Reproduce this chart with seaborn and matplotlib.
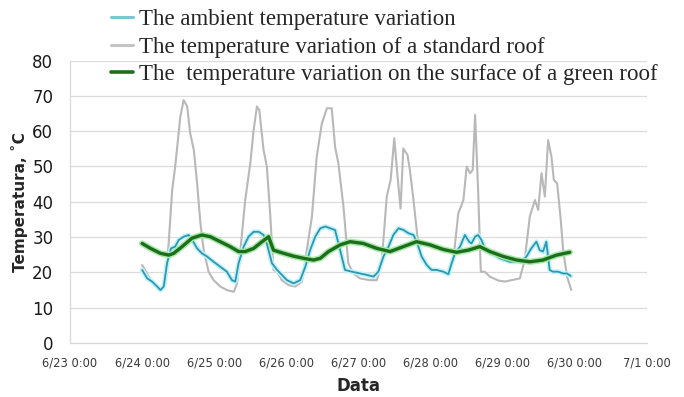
import pandas as pd
import seaborn as sns
import matplotlib.pyplot as plt
import matplotlib.dates as mdates
import matplotlib.patheffects as pe
from matplotlib.lines import Line2D
from matplotlib.ticker import FuncFormatter

# hours since 6/24 0:00 and temperatures
ambient_h = [0, 1.7, 3.3, 5, 6.1, 7.2, 8.3, 9.6, 11, 12.2, 13.8, 15.5, 17, 18.3, 19.9, 21.6, 23.8, 26, 28.2, 29.9,
             31, 32.1, 33.8, 35.4, 37.1, 38.8, 40.4, 41.5, 43.2, 44.9, 46.5, 48.2, 50.4, 52.6, 54.3, 55.9, 57.6,
             59.3, 61, 62.6, 64.2, 65.9, 67.5, 69.8, 72.5, 74.7, 77, 78.6, 80.3, 82, 83.6, 85.3, 87, 88.6, 90.3,
             91.6, 93, 94.7, 96.3, 98, 100.2, 101.9, 103, 104.1, 105.8, 107.4, 108.8, 109.6, 110.8, 111.8, 112.9,
             114, 115.7, 117.4, 119, 120.7, 122.4, 124, 126.2, 127.9, 129.5, 131.2, 132.3, 133.4, 134.5, 135.6,
             136.7, 138.4, 140.1, 141.4, 142.6]
ambient_t = [20.7, 18.3, 17.4, 16, 15, 16, 22.6, 26.8, 27.3, 29.2, 30.1, 30.6, 28.7, 26.8, 25.4, 24.5, 23, 21.6,
             20.2, 17.8, 17.4, 22.6, 27.3, 30.1, 31.5, 31.5, 30.6, 28.2, 22.6, 20.7, 19.3, 17.8, 16.9, 17.8, 21.6,
             26.3, 30.1, 32.5, 33, 32.5, 32, 26.3, 20.7, 20.2, 19.7, 19.3, 18.8, 20.2, 24.5, 27.3, 30.6, 32.5, 32,
             31.1, 30.6, 28.2, 24.5, 22.1, 20.7, 20.7, 20.2, 19.5, 22.6, 25.4, 27.3, 30.6, 28.7, 28.2, 30.1, 30.6,
             29.2, 26.8, 25.4, 24.9, 24, 23.5, 23, 23, 23, 24.5, 26.8, 28.7, 26.3, 25.9, 28.7, 20.7, 20.2, 20.2,
             19.7, 19.7, 19]

standard_h = [0, 2.2, 5, 6.6, 7.8, 8.9, 10, 11, 12.7, 13.8, 15, 16, 17.2, 18.3, 19.4, 20.5, 22.1, 23.8, 26, 28.2,
              30.5, 31.6, 32.7, 34.3, 36, 37.1, 38.2, 39, 40.4, 41.5, 42.6, 43.7, 44.9, 46.5, 48.7, 51, 53.2, 54.8,
              56.5, 58.1, 59.8, 61.5, 63.1, 64.2, 65.3, 67, 68.6, 70.3, 72.5, 75.8, 78.1, 79.7, 81.4, 82.7, 83.9,
              85, 86, 86.9, 88.3, 89.1, 90.3, 91.6, 93, 94.7, 96.3, 99.1, 101.9, 103.8, 105.2, 106.9, 108, 109.1,
              110, 110.8, 111.8, 112.7, 114, 115.7, 118.5, 120.7, 122.9, 125.7, 127.3, 129, 130.7, 131.8, 132.9,
              134, 135.1, 136.2, 137, 138.1, 139.2, 140.1, 141.4, 142.8]
standard_t = [22.1, 18.8, 16, 15, 16.9, 29.2, 43.3, 50, 64, 68.8, 67, 59.4, 54.7, 45.2, 33.9, 26.3, 20.2, 17.8, 16,
              15, 14.5, 16.9, 26.3, 40.5, 50.9, 60.3, 67, 66, 54.7, 50, 36.7, 20.7, 20.2, 17.8, 16.4, 16, 17.4,
              26.3, 35.8, 52.8, 62.2, 66.5, 66.5, 55.6, 50.9, 38.6, 22.6, 19.7, 18.3, 17.8, 17.8, 22.6, 41.5, 46.2,
              58, 47.1, 38.1, 55.1, 53.3, 49, 40.5, 30.1, 24.5, 22.1, 20.7, 20.2, 19.7, 25.4, 36.7, 40.5, 50, 48.1,
              49, 64.6, 43.3, 20.2, 20.2, 18.8, 17.7, 17.4, 17.8, 18.3, 23.5, 35.8, 40.5, 37.7, 48.1, 41.5, 57.5,
              52.8, 46.2, 45.2, 35.8, 26.3, 18.8, 15]

green_h = [0, 2.8, 6.1, 8.9, 10.5, 13.3, 16.6, 19.9, 22.7, 26, 29.3, 32.1, 34.3, 37.1, 39.9, 42.1, 43.7, 47.1,
           50.4, 53.7, 57, 59.3, 62, 65.9, 69.2, 73.6, 78.1, 82.5, 86.9, 91.3, 95.8, 100.2, 104.6, 108.5, 112.4,
           115.7, 120.2, 124.6, 129, 133.4, 137.9, 142.3]
green_t = [28.2, 26.8, 25.4, 24.9, 25.4, 27.3, 29.7, 30.6, 30.1, 28.7, 27.3, 25.9, 25.9, 26.8, 28.7, 30.1, 26.3,
           25.4, 24.6, 24, 23.5, 24, 25.9, 27.8, 28.7, 28.2, 26.8, 25.9, 27.3, 28.7, 27.8, 26.5, 25.7, 26.3, 27.3,
           25.9, 24.5, 23.5, 23, 23.5, 24.9, 25.7]

labels = ['The ambient temperature variation',
          'The temperature variation of a standard roof',
          'The  temperature variation on the surface of a green roof']

start = pd.Timestamp('2013-06-24 00:00')


def frame(hours, temps):
    return pd.DataFrame({'time': start + pd.to_timedelta(hours, unit='h'), 'temp': temps})


df_amb = frame(ambient_h, ambient_t)
df_std = frame(standard_h, standard_t)
df_grn = frame(green_h, green_t)

sns.set_style('white')
plt.rcParams['font.family'] = ['DejaVu Sans']

fig = plt.figure(figsize=(6.84, 3.97), dpi=100)
ax = fig.add_axes([70 / 684, 1 - 343 / 397, 577 / 684, 282.4 / 397])

sns.lineplot(data=df_std, x='time', y='temp', ax=ax, color='#b8b8b8', linewidth=1.5,
             estimator=None, sort=False, zorder=2)
sns.lineplot(data=df_amb, x='time', y='temp', ax=ax, color='#2a98b0', linewidth=1.3,
             estimator=None, sort=False, zorder=3,
             path_effects=[pe.Stroke(linewidth=3.5, foreground='#c2f1f8'), pe.Normal()])
sns.lineplot(data=df_grn, x='time', y='temp', ax=ax, color='#1c6e1c', linewidth=2.4,
             estimator=None, sort=False, zorder=4,
             path_effects=[pe.Stroke(linewidth=4.5, foreground='#a6e8a6'), pe.Normal()])

ax.set_ylim(0, 80)
ax.set_yticks(range(0, 81, 10))
ax.set_xlim(pd.Timestamp('2013-06-23'), pd.Timestamp('2013-07-01'))
ax.xaxis.set_major_locator(mdates.DayLocator())
ax.xaxis.set_major_formatter(FuncFormatter(
    lambda v, p: f'{mdates.num2date(v).month}/{mdates.num2date(v).day} 0:00'))

ax.grid(axis='y', color='#dcdcdc', linewidth=0.9)
ax.grid(axis='x', visible=False)
for s in ['top', 'right']:
    ax.spines[s].set_visible(False)
for s in ['left', 'bottom']:
    ax.spines[s].set_color('#d8d8d8')
    ax.spines[s].set_linewidth(0.9)

ax.tick_params(axis='y', length=0, pad=12, labelsize=12, labelcolor='#1a1a1a')
ax.tick_params(axis='x', length=3, color='#d8d8d8', pad=7, labelsize=8.3, labelcolor='#3a3a3a')

ax.set_ylabel('Temperatura, ˚C', fontsize=11, fontweight='bold', labelpad=3)
ax.set_xlabel('Data', fontsize=12, fontweight='bold', labelpad=5)

handles = [Line2D([], [], color='#7cc6d3', linewidth=2.2),
           Line2D([], [], color='#c4c4c4', linewidth=2.2),
           Line2D([], [], color='#1c6e1c', linewidth=2.6)]
fig.legend(handles, labels, loc='upper left', bbox_to_anchor=(102 / 684, 1.0), frameon=False,
           prop={'family': 'Liberation Serif', 'size': 16.5}, handlelength=0.95, handletextpad=0.25,
           labelspacing=0.28, borderaxespad=0)

fig.savefig('out.png', dpi=100)
